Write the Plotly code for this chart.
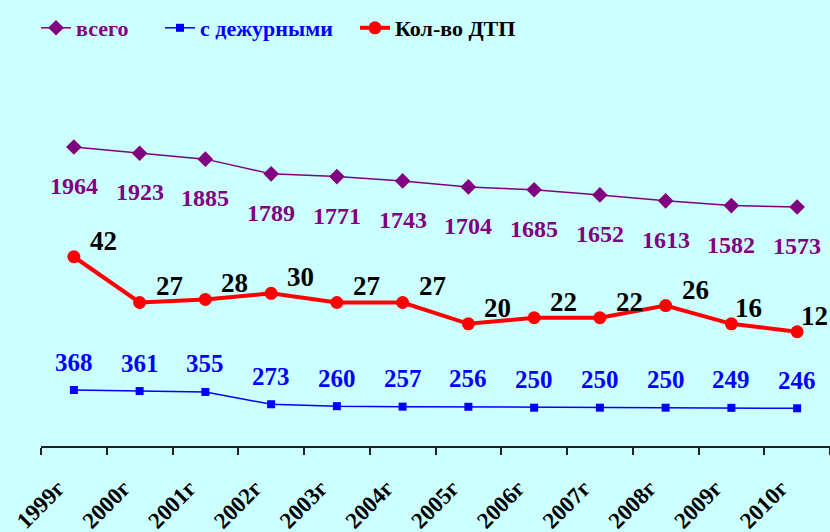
import plotly.graph_objects as go

years = ["1999г", "2000г", "2001г", "2002г", "2003г", "2004г",
         "2005г", "2006г", "2007г", "2008г", "2009г", "2010г"]
vsego = [1964, 1923, 1885, 1789, 1771, 1743, 1704, 1685, 1652, 1613, 1582, 1573]
dezhurnye = [368, 361, 355, 273, 260, 257, 256, 250, 250, 250, 249, 246]
# positions as drawn in the picture (last two points are drawn higher than their labels)
dtp_plotted = [42, 27, 28, 30, 27, 27, 20, 22, 22, 26, 20, 17.4]
dtp_labels = [42, 27, 28, 30, 27, 27, 20, 22, 22, 26, 16, 12]

BG = "#CCFFFF"
PURPLE = "#800080"
BLUE = "#0000FF"
RED = "#FF0000"
SERIF = "Liberation Serif"

fig = go.Figure()

fig.add_trace(go.Scatter(
    x=years, y=vsego, name="всего", mode="lines+markers",
    line=dict(color=PURPLE, width=1.5),
    marker=dict(symbol="diamond", size=12, color=PURPLE),
    yaxis="y", legend="legend"))

fig.add_trace(go.Scatter(
    x=years, y=dezhurnye, name="с дежурными", mode="lines+markers",
    line=dict(color=BLUE, width=1.5),
    marker=dict(symbol="square", size=8, color=BLUE),
    yaxis="y3", legend="legend2"))

fig.add_trace(go.Scatter(
    x=years, y=dtp_plotted, name="Кол-во ДТП", mode="lines+markers",
    line=dict(color=RED, width=4),
    marker=dict(symbol="circle", size=13, color=RED),
    yaxis="y2", legend="legend3"))

annotations = []
for xv, yv in zip(years, vsego):
    annotations.append(dict(x=xv, y=yv, yref="y", xref="x", text=str(yv),
                            showarrow=False, yshift=-39,
                            font=dict(family=SERIF, size=24, color=PURPLE, weight="bold")))
for xv, yv in zip(years, dezhurnye):
    annotations.append(dict(x=xv, y=yv, yref="y3", xref="x", text=str(yv),
                            showarrow=False, yshift=28,
                            font=dict(family=SERIF, size=25, color=BLUE, weight="bold")))
n = len(years)
for i, (xv, yv, lab) in enumerate(zip(years, dtp_plotted, dtp_labels)):
    # labels sit up-right of the points; the last two are tucked closer (as in the original)
    near_edge = i >= n - 2
    annotations.append(dict(x=xv, y=yv, yref="y2", xref="x", text=str(lab),
                            showarrow=False, xanchor="left",
                            xshift=2 if near_edge else 14, yshift=16,
                            font=dict(family=SERIF, size=27, color="black", weight="bold")))

legend_common = dict(orientation="h", xref="container", yref="container",
                     xanchor="left", yanchor="middle", bgcolor="rgba(0,0,0,0)",
                     itemwidth=30)

fig.update_layout(
    width=830, height=532,
    paper_bgcolor=BG, plot_bgcolor=BG,
    margin=dict(l=41, r=0, t=60, b=86, autoexpand=False),
    showlegend=True,
    legend=dict(**legend_common, x=36 / 830, y=1 - 28 / 532,
                font=dict(family=SERIF, size=22, color=PURPLE, weight="bold")),
    legend2=dict(**legend_common, x=160 / 830, y=1 - 28 / 532,
                 font=dict(family=SERIF, size=22, color=BLUE, weight="bold")),
    legend3=dict(**legend_common, x=355 / 830, y=1 - 28 / 532,
                 font=dict(family=SERIF, size=22, color="black", weight="bold")),
    xaxis=dict(type="category", showgrid=False, zeroline=False, automargin=False,
               showline=True, linecolor="#222222", linewidth=1.5,
               ticks="outside", ticklen=7, tickcolor="#222222", tickwidth=1.5,
               tickson="boundaries", tickangle=-45,
               ticklabelshift=-16, ticklabelstandoff=18,
               tickfont=dict(family=SERIF, size=23, color="black", weight="bold"),
               range=[-0.5, 11.5]),
    yaxis=dict(range=[15.5, 2531], visible=False, showgrid=False, automargin=False),
    yaxis2=dict(range=[-20.05, 106.5], visible=False, showgrid=False,
                overlaying="y", automargin=False),
    yaxis3=dict(range=[-5.5, 2569], visible=False, showgrid=False,
                overlaying="y", automargin=False),
    annotations=annotations,
)

fig.write_html("out.html", config={"displayModeBar": False},
               post_script="document.body.style.margin='0px';document.body.style.overflow='hidden';")
